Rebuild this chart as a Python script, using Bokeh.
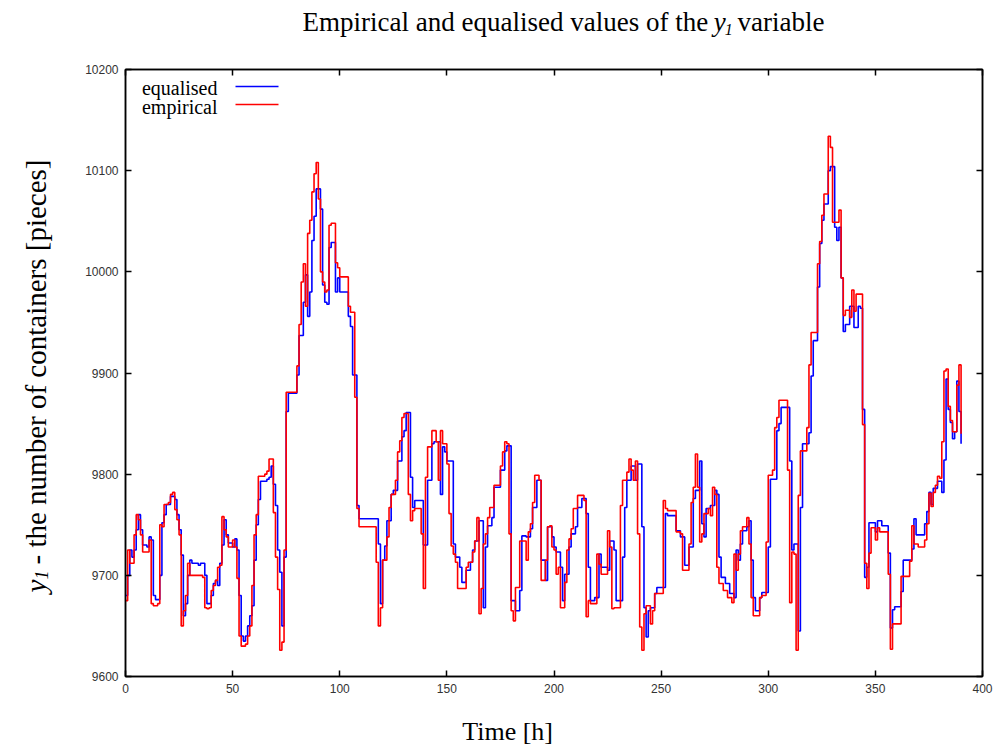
import math
from bokeh.plotting import figure
from bokeh.layouts import row, column
from bokeh.models import Range1d, LinearAxis, FixedTicker, Label, Arrow
from bokeh.embed import file_html
from bokeh.resources import INLINE

# ---------------- data ----------------
hours = list(range(0, 391))

empirical = [
    9675, 9725, 9712, 9712, 9740, 9760, 9755, 9740, 9723, 9723,
    9723, 9735, 9672, 9670, 9670, 9672, 9750, 9748, 9770, 9770,
    9772, 9780, 9782, 9765, 9755, 9740, 9650, 9665, 9680, 9712,
    9700, 9700, 9700, 9700, 9700, 9700, 9698, 9668, 9667, 9668,
    9685, 9690, 9695, 9708, 9710, 9758, 9745, 9738, 9728, 9728,
    9735, 9728, 9697, 9640, 9630, 9630, 9632, 9640, 9650, 9690,
    9740, 9760, 9798, 9798, 9798, 9800, 9803, 9815, 9815, 9762,
    9718, 9686, 9626, 9634, 9725, 9881, 9881, 9881, 9881, 9881,
    9907, 9948, 9990, 10008, 9966, 10038, 10051, 10079, 10097, 10108,
    10072, 10000, 9990, 9980, 9982, 10046, 10048, 10048, 10009, 10004,
    9995, 9995, 9995, 9995, 9966, 9960, 9960, 9876, 9766, 9748,
    9748, 9748, 9748, 9748, 9748, 9748, 9748, 9713, 9650, 9668,
    9715, 9715, 9738, 9767, 9780, 9780, 9794, 9822, 9833, 9856,
    9860, 9860, 9780, 9754, 9764, 9766, 9766, 9766, 9741, 9687,
    9797, 9827, 9827, 9843, 9843, 9832, 9794, 9843, 9830, 9830,
    9810, 9761, 9729, 9721, 9713, 9687, 9687, 9687, 9687, 9708,
    9713, 9713, 9723, 9734, 9757, 9662, 9687, 9731, 9741, 9757,
    9767, 9767, 9789, 9789, 9789, 9808, 9822, 9832, 9830, 9741,
    9665, 9655, 9688, 9688, 9734, 9734, 9734, 9715, 9743, 9751,
    9772, 9799, 9799, 9794, 9695, 9695, 9715, 9748, 9749, 9728,
    9725, 9701, 9708, 9668, 9668, 9693, 9725, 9736, 9746, 9766,
    9766, 9779, 9779, 9779, 9774, 9659, 9675, 9672, 9672, 9672,
    9721, 9711, 9701, 9701, 9701, 9744, 9728, 9667, 9668, 9668,
    9668, 9769, 9794, 9794, 9802, 9815, 9804, 9794, 9813, 9741,
    9649, 9626, 9662, 9670, 9670, 9652, 9665, 9682, 9682, 9682,
    9682, 9774, 9766, 9764, 9764, 9764, 9764, 9743, 9743, 9741,
    9705, 9705, 9705, 9731, 9772, 9787, 9820, 9787, 9733, 9741,
    9761, 9761, 9766, 9759, 9787, 9780, 9708, 9692, 9692, 9685,
    9685, 9678, 9678, 9673, 9721, 9705, 9721, 9744, 9748, 9748,
    9757, 9731, 9678, 9660, 9660, 9660, 9678, 9680, 9680, 9733,
    9799, 9799, 9804, 9846, 9856, 9873, 9873, 9873, 9873, 9804,
    9673, 9723, 9721, 9626, 9779, 9823, 9823, 9823, 9846, 9908,
    9940, 9940, 9940, 10008, 10030, 10056, 10077, 10077, 10134, 10123,
    10049, 10049, 10049, 10061, 9994, 9957, 9962, 9962, 9955, 9982,
    9961, 9978, 9978, 9978, 9849, 9712, 9687, 9722, 9747, 9747,
    9735, 9747, 9743, 9743, 9743, 9743, 9701, 9627, 9652, 9652,
    9652, 9652, 9699, 9699, 9699, 9699, 9714, 9749, 9731, 9731,
    9728, 9728, 9728, 9735, 9751, 9781, 9768, 9782, 9789, 9798,
    9796, 9832, 9902, 9904, 9867, 9853, 9842, 9842, 9888, 9908,
    9840,
]

equalised = [
    9680, 9700, 9725, 9718, 9725, 9745, 9760, 9745, 9730, 9730,
    9728, 9738, 9735, 9680, 9676, 9676, 9700, 9752, 9760, 9770,
    9770, 9778, 9778, 9775, 9760, 9745, 9720, 9660, 9672, 9700,
    9715, 9712, 9712, 9712, 9710, 9712, 9712, 9700, 9672, 9672,
    9680, 9692, 9695, 9690, 9712, 9730, 9755, 9740, 9732, 9732,
    9728, 9736, 9725, 9680, 9640, 9635, 9640, 9650, 9660, 9670,
    9715, 9750, 9775, 9793, 9793, 9793, 9795, 9797, 9808, 9790,
    9769, 9725, 9703, 9650, 9718, 9862, 9880, 9880, 9880, 9880,
    9898, 9937, 9937, 9970, 9997, 9956, 9980, 10031, 10055, 10082,
    10082, 10062, 9987, 9970, 9968, 10024, 10029, 10029, 9980, 9994,
    9980, 9980, 9980, 9980, 9956, 9946, 9898, 9898, 9769, 9756,
    9756, 9756, 9756, 9756, 9756, 9756, 9756, 9756, 9731, 9672,
    9715, 9729, 9754, 9754, 9780, 9784, 9784, 9813, 9813, 9837,
    9843, 9861, 9861, 9797, 9767, 9774, 9774, 9774, 9774, 9730,
    9730, 9794, 9794, 9830, 9832, 9832, 9832, 9780, 9827, 9822,
    9813, 9813, 9813, 9731, 9718, 9718, 9708, 9693, 9693, 9705,
    9705, 9713, 9725, 9734, 9734, 9754, 9754, 9668, 9728, 9749,
    9749, 9757, 9787, 9787, 9787, 9804, 9804, 9823, 9828, 9828,
    9675, 9675, 9665, 9665, 9685, 9739, 9739, 9738, 9738, 9746,
    9767, 9767, 9794, 9794, 9715, 9715, 9695, 9748, 9748, 9738,
    9728, 9723, 9723, 9708, 9675, 9701, 9701, 9728, 9741, 9741,
    9748, 9767, 9767, 9776, 9776, 9761, 9708, 9675, 9675, 9678,
    9678, 9721, 9708, 9708, 9708, 9705, 9734, 9734, 9725, 9675,
    9675, 9675, 9718, 9767, 9794, 9794, 9808, 9808, 9794, 9810,
    9810, 9748, 9668, 9639, 9665, 9668, 9668, 9682, 9688, 9688,
    9688, 9688, 9761, 9759, 9759, 9759, 9759, 9744, 9744, 9738,
    9738, 9710, 9710, 9728, 9728, 9776, 9784, 9784, 9813, 9751,
    9738, 9766, 9766, 9769, 9769, 9784, 9780, 9718, 9698, 9698,
    9692, 9692, 9682, 9682, 9678, 9725, 9715, 9731, 9744, 9744,
    9748, 9754, 9715, 9678, 9665, 9665, 9678, 9683, 9683, 9683,
    9728, 9795, 9795, 9795, 9843, 9850, 9866, 9866, 9866, 9866,
    9813, 9725, 9731, 9731, 9645, 9767, 9830, 9830, 9830, 9841,
    9897, 9932, 9932, 9985, 10028, 10051, 10067, 10067, 10100, 10104,
    10104, 10044, 10031, 10044, 9994, 9941, 9948, 9948, 9966, 9966,
    9945, 9945, 9966, 9964, 9864, 9698, 9708, 9752, 9752, 9752,
    9743, 9754, 9754, 9749, 9749, 9749, 9722, 9648, 9666, 9669,
    9669, 9669, 9684, 9715, 9715, 9715, 9715, 9726, 9756, 9740,
    9740, 9740, 9740, 9751, 9763, 9782, 9770, 9786, 9786, 9793,
    9793, 9782, 9814, 9894, 9864, 9851, 9835, 9842, 9892, 9862,
    9830,
]

x_ticks = [0, 50, 100, 150, 200, 250, 300, 350, 400]
y_ticks = [9600, 9700, 9800, 9900, 10000, 10100, 10200]

# ---------------- layout (canvas pixels) ----------------
W, H = 994, 748
LEFT_W = 60                 # strip holding the y-axis title
TITLE_H, BOTTOM_H = 40, 40  # strips holding the title and the x-axis title
FL, FR, FT, FB = 125, 982, 69, 676   # plot frame edges
X0, X1, Y0, Y1 = 0, 400, 9600, 10200
MAIN_W = W - LEFT_W
MAIN_H = H - TITLE_H - BOTTOM_H

SERIF = "Liberation Serif"


def sx(px):
    return X0 + (px - FL) / (FR - FL) * (X1 - X0)


def sy(py):
    return Y1 - (py - FT) / (FB - FT) * (Y1 - Y0)


def text_strip(x0, x1, y0, y1):
    f = figure(width=x1 - x0, height=y1 - y0, output_backend="svg", toolbar_location=None,
               x_range=Range1d(x0, x1), y_range=Range1d(y1, y0), title=None,
               min_border=0, x_axis_location=None, y_axis_location=None)
    f.grid.visible = False
    f.outline_line_color = None
    f.background_fill_color = "white"
    f.border_fill_color = "white"
    return f


def lab(fig, x, y, text, size, align="left", style="normal", angle=0):
    fig.add_layout(Label(x=x, y=y, text=text, text_font=SERIF,
                         text_font_size=f"{size}px", text_align=align,
                         text_baseline="middle", text_font_style=style,
                         text_color="black", angle=angle))


# ---- main plot ----
p = figure(width=MAIN_W, height=MAIN_H, output_backend="svg", toolbar_location=None,
           x_range=Range1d(X0, X1), y_range=Range1d(Y0, Y1), title=None,
           min_border_left=FL - LEFT_W, min_border_right=W - FR,
           min_border_top=FT - TITLE_H, min_border_bottom=(TITLE_H + MAIN_H) - FB,
           x_axis_location=None, y_axis_location=None)
p.grid.visible = False
p.outline_line_color = "black"
p.outline_line_width = 1.5
p.background_fill_color = "white"
p.border_fill_color = "white"


def make_axis(ticks, labels=True):
    ax = LinearAxis(ticker=FixedTicker(ticks=ticks))
    ax.major_tick_in = 6
    ax.major_tick_out = 0
    ax.minor_tick_line_color = None
    ax.axis_line_color = "black"
    ax.axis_line_width = 1.5
    ax.major_tick_line_width = 1.5
    ax.major_tick_line_color = "black"
    ax.major_label_text_font = "Liberation Sans"
    ax.major_label_text_font_size = "12px"
    ax.major_label_text_color = "#333333"
    ax.major_label_standoff = 7
    if not labels:
        ax.major_label_overrides = {t: "" for t in ticks}
        ax.major_label_standoff = 0
        ax.axis_label_standoff = 0
    return ax


p.add_layout(make_axis(x_ticks), "below")
p.add_layout(make_axis(y_ticks), "left")
p.add_layout(make_axis(x_ticks, False), "above")
p.add_layout(make_axis(y_ticks, False), "right")

p.step(hours, equalised, mode="after", line_color="#0000ff", line_width=1.6)
p.step(hours, empirical, mode="after", line_color="#ff0000", line_width=1.6)

# legend: text on the left, line sample on the right
lab(p, sx(217), sy(87), "equalised", 20, align="right")
lab(p, sx(217), sy(106), "empirical", 20, align="right")
p.add_layout(Arrow(end=None, x_start=sx(235), y_start=sy(86), x_end=sx(278), y_end=sy(86),
                   line_color="#0000ff", line_width=1.6))
p.add_layout(Arrow(end=None, x_start=sx(235), y_start=sy(104), x_end=sx(278), y_end=sy(104),
                   line_color="#ff0000", line_width=1.6))

# ---- title strip ----
title_fig = text_strip(LEFT_W, W, 0, TITLE_H)
lab(title_fig, 695, 21.5, "Empirical and equalised values of the", 27, align="right")
lab(title_fig, 701, 21.5, "y", 27, style="italic")
lab(title_fig, 713, 28.5, "1", 16, style="italic")
lab(title_fig, 727, 21.5, "variable", 27)

# ---- x-axis title strip ----
bottom_fig = text_strip(LEFT_W, W, H - BOTTOM_H, H)
lab(bottom_fig, 427, 731, "Time [h]", 26, align="left")

# ---- y-axis title strip (text reads upwards) ----
left_fig = text_strip(0, LEFT_W, 0, H)
lab(left_fig, 35, 592, "y", 29, style="italic", angle=math.pi / 2)
lab(left_fig, 41, 579, "1", 18, style="italic", angle=math.pi / 2)
lab(left_fig, 35, 564, "- the number of containers [pieces]", 29, angle=math.pi / 2)

layout = row(left_fig, column(title_fig, p, bottom_fig))

open("out.html", "w").write(file_html(layout, INLINE))
